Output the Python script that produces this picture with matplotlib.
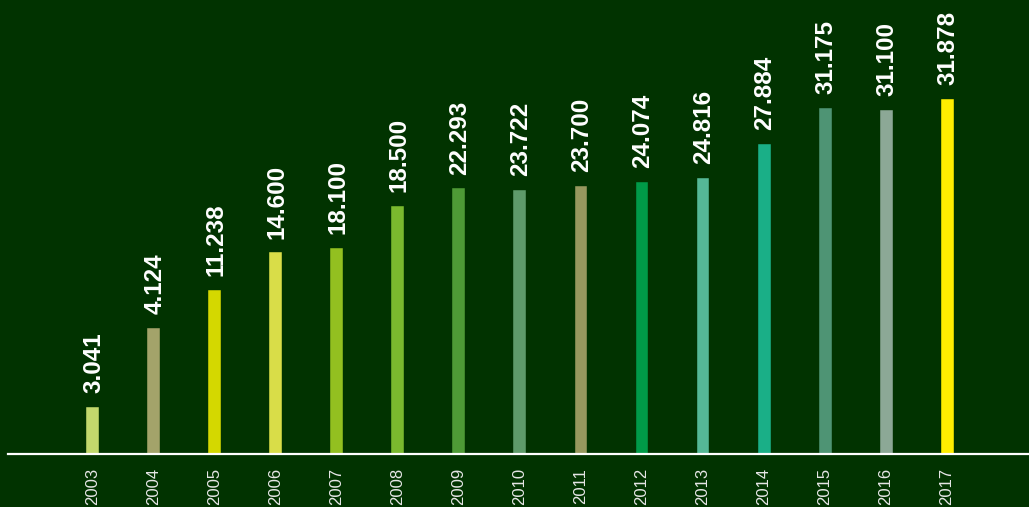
import matplotlib
matplotlib.use("Agg")
import matplotlib.pyplot as plt

plt.rcParams['font.family'] = ['Liberation Sans', 'DejaVu Sans']

years = ['2003', '2004', '2005', '2006', '2007', '2008', '2009', '2010',
         '2011', '2012', '2013', '2014', '2015', '2016', '2017']
# labels printed above the bars
labels = ['3.041', '4.124', '11.238', '14.600', '18.100', '18.500', '22.293', '23.722',
          '23.700', '24.074', '24.816', '27.884', '31.175', '31.100', '31.878']
# bar heights as drawn in the original (not proportional to the labels)
heights = [4.22, 11.3, 14.7, 18.1, 18.5, 22.3, 23.85, 23.7,
           24.07, 24.4, 24.8, 27.88, 31.1, 30.9, 31.878]
colors = ['#c2d86c', '#a3a36a', '#d4d800', '#d9dd48', '#93c020', '#7ab92e', '#4e9a36', '#5e9b6a',
          '#97985e', '#009a48', '#55b896', '#1aaf87', '#4e9474', '#8ca896', '#ffee00']

bg = '#013300'
fig = plt.figure(figsize=(10.29, 5.07), dpi=100, facecolor=bg)
ax = fig.add_axes([8/1029, 53/507, 1021/1029, 454/507], facecolor=bg)

x = list(range(len(years)))
ax.bar(x, heights, width=0.213, color=colors, edgecolor=bg, linewidth=0.3)

for i in x:
    ax.annotate(labels[i], (i, heights[i]), xytext=(0.5, 10), textcoords='offset points',
                rotation=90, ha='center', va='bottom', color='white',
                fontsize=17.5, fontweight='bold')

ax.set_xlim(-1.393, 15.344)
ax.set_ylim(0, 40.77)
ax.set_xticks(x)
ax.set_xticklabels(years, rotation=90, color='#e6e6e6', fontsize=12, va='top')
ax.tick_params(axis='x', length=0, pad=10)
ax.set_yticks([])
for s in ['top', 'right', 'left']:
    ax.spines[s].set_visible(False)
ax.spines['bottom'].set_color('white')
ax.spines['bottom'].set_linewidth(1.6)

fig.savefig('out.png', dpi=100, facecolor=bg)
